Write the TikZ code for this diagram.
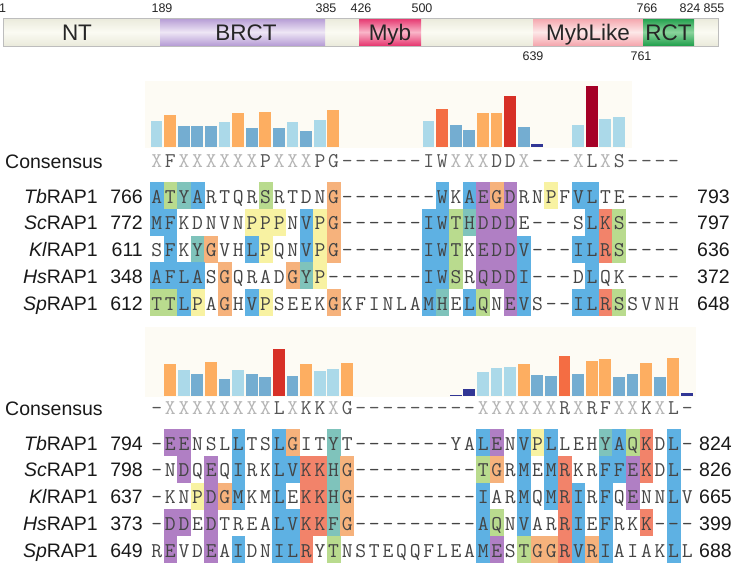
\documentclass[tikz,border=0pt]{standalone}
\usepackage{fontspec}
\setmainfont{Liberation Sans}
\definecolor{barNV}{HTML}{313695}
\definecolor{barMB}{HTML}{74ADD1}
\definecolor{barLB}{HTML}{ABD9E9}
\definecolor{barOR}{HTML}{FDAE61}
\definecolor{barTO}{HTML}{F46D43}
\definecolor{barRD}{HTML}{D73027}
\definecolor{barDR}{HTML}{A50026}
\definecolor{resb}{HTML}{5EB1E3}
\definecolor{resg}{HTML}{B9DB8E}
\definecolor{rest}{HTML}{7FC3BB}
\definecolor{resp}{HTML}{B07FC4}
\definecolor{reso}{HTML}{F6B27C}
\definecolor{resy}{HTML}{F8F2A2}
\definecolor{resr}{HTML}{F2836A}
\definecolor{seqgray}{HTML}{444444}
\definecolor{consx}{HTML}{B5B5B5}
\definecolor{consl}{HTML}{555555}
\definecolor{panelbg}{HTML}{FDFBF4}
\definecolor{dombgE}{HTML}{EAEADB}
\definecolor{dombgM}{HTML}{FBFBF3}
\definecolor{dombord}{HTML}{BDBDBD}
\definecolor{brctE}{HTML}{B49AD4}
\definecolor{brctM}{HTML}{EEE6F5}
\definecolor{mybE}{HTML}{E5336D}
\definecolor{mybM}{HTML}{F9B5C8}
\definecolor{myblE}{HTML}{F4A3AB}
\definecolor{myblM}{HTML}{FDE8E8}
\definecolor{rctE}{HTML}{1E9E4A}
\definecolor{rctM}{HTML}{8AD49C}
\newcount\seqcol
\newcommand\rowboxes[2]{\def\rbtop{#1}\seqcol=0\relax\rbloop#2\relax}
\def\rbloop#1{%
  \ifx\relax#1\else
    \advance\seqcol by 1\relax
    \if.#1\else
      \pgfmathsetmacro\rbx{136.4+13.6*\the\seqcol}%
      \fill[fill=res#1] (\rbx,\rbtop) rectangle ++(13.8,27);%
    \fi
    \expandafter\rbloop
  \fi}
\newcommand\rowtext[3]{\def\rtbase{#1}\def\rtname{#2}\seqcol=0\relax\rtloop#3\relax}
\def\rtloop#1{%
  \ifx\relax#1\else
    \advance\seqcol by 1\relax
    \pgfmathsetmacro\rtx{143.2+13.6*\the\seqcol}%
    \node[restxt] (\rtname-\the\seqcol) at (\rtx,\rtbase) {#1};%
    \expandafter\rtloop
  \fi}
\newcommand\constext[3]{\def\rtbase{#1}\def\rtname{#2}\seqcol=0\relax\csloop#3\relax}
\def\csloop#1{%
  \ifx\relax#1\else
    \advance\seqcol by 1\relax
    \pgfmathsetmacro\rtx{143.2+13.6*\the\seqcol}%
    \if X#1\def\cscol{consx}\else\def\cscol{consl}\fi
    \node[restxt,text=\cscol] (\rtname-\the\seqcol) at (\rtx,\rtbase) {#1};%
    \expandafter\csloop
  \fi}
\begin{document}
\begin{tikzpicture}[x=1pt,y=-1pt,
  restxt/.style={font=\ttfamily\fontsize{21}{21}\selectfont, anchor=base, inner sep=0pt, text=seqgray},
  splbl/.style={font=\fontsize{19.5}{20}\selectfont, anchor=base east, inner sep=0pt, text=black!90},
  numl/.style={font=\fontsize{19.5}{20}\selectfont, anchor=base east, inner sep=0pt, text=black!90},
  numr/.style={font=\fontsize{19.5}{20}\selectfont, anchor=base west, inner sep=0pt, text=black!90},
  conslbl/.style={font=\fontsize{19.5}{20}\selectfont, anchor=base west, inner sep=0pt, text=black!90},
  domlbl/.style={font=\fontsize{22.5}{23}\selectfont, anchor=base, inner sep=0pt, text=black!85},
  posnum/.style={font=\fontsize{12.5}{13}\selectfont, anchor=base, inner sep=0pt, text=black!85}]
\useasboundingbox (0,0) rectangle (733,568);
% ---------- domain bar ----------
\shade[top color=dombgE, bottom color=dombgE, middle color=dombgM] (3,18) rectangle (718,46);
\shade[top color=brctE, bottom color=brctE, middle color=brctM] (160,18) rectangle (325,46);
\shade[top color=mybE, bottom color=mybE, middle color=mybM] (359,18) rectangle (421,46);
\shade[top color=myblE, bottom color=myblE, middle color=myblM] (533,18) rectangle (643,46);
\shade[top color=rctE, bottom color=rctE, middle color=rctM] (643,18) rectangle (694,46);
\draw[dombord, line width=0.8pt] (3,18) rectangle (718,46);
\node[domlbl] (dNT) at (77,40) {NT};
\node[domlbl] (dBRCT) at (246,40) {BRCT};
\node[domlbl] (dMyb) at (390,40) {Myb};
\node[domlbl] (dMybL) at (588,40) {MybLike};
\node[domlbl] (dRCT) at (668.5,40) {RCT};
\node[posnum] (p1) at (2.5,12.5) {1};
\node[posnum] (p189) at (162,12.5) {189};
\node[posnum] (p385) at (326,12.5) {385};
\node[posnum] (p426) at (361,12.5) {426};
\node[posnum] (p500) at (422,12.5) {500};
\node[posnum] (p766) at (647,12.5) {766};
\node[posnum] (p824) at (690,12.5) {824};
\node[posnum] (p855) at (714,12.5) {855};
\node[posnum] (p639) at (533,60) {639};
\node[posnum] (p761) at (641,60) {761};
% ---------- top block ----------
\fill[panelbg] (145,81) rectangle (632,148);
\foreach \c/\h/\k in {1/26.3/LB, 2/31.7/OR, 3/20.7/MB, 4/20.7/MB, 5/20.7/MB, 6/25/LB, 7/34.3/OR, 8/19/MB, 9/35.3/OR, 10/19/MB, 11/25/LB, 12/16.3/MB, 13/27.3/LB, 14/37.3/OR, 21/25.7/LB, 22/37.7/TO, 23/21.7/MB, 24/16.7/MB, 25/34.3/OR, 26/34.3/OR, 27/50.7/RD, 28/20/MB, 29/3.5/NV, 32/22.3/LB, 33/60.7/DR, 34/27.7/LB, 35/29.7/LB}
  \fill[bar\k] (137+13.6*\c,147) rectangle ++(11.8,-\h);
\node[conslbl] (consA) at (5,168) {Consensus};
\constext{167.4}{cA}{XFXXXXXXPXXXPG ------ IWXXXDDX --- XLXS ----}
\rowboxes{182}{bgtb....g....o ....... b.bpop..y.bb.. ....}
\rowboxes{208.8}{bb.....yyy.byo ...... bbgtppp. ... .brg ....}
\rowboxes{235.6}{.b.to..by..byo ...... bbg.pppb ... bbrg ....}
\rowboxes{262.4}{bbbb.o....oty. ...... bbg.pppb ... .b.. ....}
\rowboxes{289.2}{ggby.o.by....o ...... bt.bg.pb ... bbrg ....}
\rowtext{203}{tbA}{ATYARTQRSRTDNG ------- WKAEGDRNPFVLTE ----}
\rowtext{229.8}{scA}{MFKDNVNPPPNVPG ------ IWTHDDDE --- SLKS ----}
\rowtext{256.6}{klA}{SFKYGVHLPQNVPG ------ IWTKEDDV --- ILRS ----}
\rowtext{283.4}{hsA}{AFLASGQRADGYP- ------ IWSRQDDI --- DLQK ----}
\rowtext{310.2}{spA}{TTLPAGHVPSEEKG KFINLA MHELQNEV S-- ILRS SVNH}
\node[splbl] (tbAl) at (98,203) {\textit{Tb}RAP1};
\node[splbl] (scAl) at (98,229.8) {\textit{Sc}RAP1};
\node[splbl] (klAl) at (98,256.6) {\textit{Kl}RAP1};
\node[splbl] (hsAl) at (98,283.4) {\textit{Hs}RAP1};
\node[splbl] (spAl) at (98,310.2) {\textit{Sp}RAP1};
\node[numl] (tbAn) at (143,203) {766};
\node[numl] (scAn) at (143,229.8) {772};
\node[numl] (klAn) at (143,256.6) {611};
\node[numl] (hsAn) at (143,283.4) {348};
\node[numl] (spAn) at (143,310.2) {612};
\node[numr] (tbAe) at (697,203) {793};
\node[numr] (scAe) at (697,229.8) {797};
\node[numr] (klAe) at (697,256.6) {636};
\node[numr] (hsAe) at (697,283.4) {372};
\node[numr] (spAe) at (697,310.2) {648};
% ---------- bottom block ----------
\fill[panelbg] (145,327) rectangle (696,397);
\foreach \c/\h/\k in {2/31.7/OR, 3/25.7/LB, 4/21.7/MB, 5/33.7/OR, 6/16.7/MB, 7/25.3/LB, 8/21.7/MB, 9/18.7/MB, 10/47/RD, 11/19.3/MB, 12/31.7/OR, 13/24.7/LB, 14/26.7/LB, 15/32.7/OR, 23/1.2/NV, 24/6.3/NV, 25/23.3/LB, 26/27.3/LB, 27/28.3/LB, 28/31.7/OR, 29/20.3/MB, 30/19.3/MB, 31/39.7/TO, 32/21.7/MB, 33/34.7/OR, 34/36.3/OR, 35/18.3/MB, 36/21.7/MB, 37/32.7/OR, 38/18.7/MB, 39/37.7/OR, 40/2.7/NV}
  \fill[bar\k] (137+13.6*\c,395.7) rectangle ++(11.8,-\h);
\node[conslbl] (consB) at (5,415) {Consensus};
\constext{414.4}{cB}{-XXXXXXXXLXKKXG- -------- XXXXXXRXRFXXKXL-}
\rowboxes{429}{.pp...b..bo..t.. ...... ..bp.byb...tbgr.b .}
\rowboxes{455.8}{..p.p.b..bbrrto. ........ go.b.br..bbpr.b .}
\rowboxes{482.6}{...ypob..b.rrto. ........ b..b.brb.b.p..b.}
\rowboxes{509.4}{.pp.p....bbrrto. ........ bg.b..rb.b..r.b.}
\rowboxes{536.2}{.p..p.b..bbr.g.. ........ bp.goorbob....b.}
\rowtext{450}{tbB}{-EENSLLTSLGITYT- ------ YALENVPLLEHYAQKDL -}
\rowtext{476.8}{scB}{-NDQEQIRKLVKKHG- -------- TGRMEMRKRFFEKDL -}
\rowtext{503.6}{klB}{-KNPDGMKMLEKKHG- -------- IARMQMRIRFQENNLV}
\rowtext{530.4}{hsB}{-DDEDTREALVKKFG- -------- AQNVARRIEFRKK---}
\rowtext{557.2}{spB}{REVDEAIDNILRYTNS TEQQFLEA MESTGGRVRIAIAKLL}
\node[splbl] (tbBl) at (98,450) {\textit{Tb}RAP1};
\node[splbl] (scBl) at (98,476.8) {\textit{Sc}RAP1};
\node[splbl] (klBl) at (98,503.6) {\textit{Kl}RAP1};
\node[splbl] (hsBl) at (98,530.4) {\textit{Hs}RAP1};
\node[splbl] (spBl) at (98,557.2) {\textit{Sp}RAP1};
\node[numl] (tbBn) at (143,450) {794};
\node[numl] (scBn) at (143,476.8) {798};
\node[numl] (klBn) at (143,503.6) {637};
\node[numl] (hsBn) at (143,530.4) {373};
\node[numl] (spBn) at (143,557.2) {649};
\node[numr] (tbBe) at (699,450) {824};
\node[numr] (scBe) at (699,476.8) {826};
\node[numr] (klBe) at (699,503.6) {665};
\node[numr] (hsBe) at (699,530.4) {399};
\node[numr] (spBe) at (699,557.2) {688};
\end{tikzpicture}
\end{document}
